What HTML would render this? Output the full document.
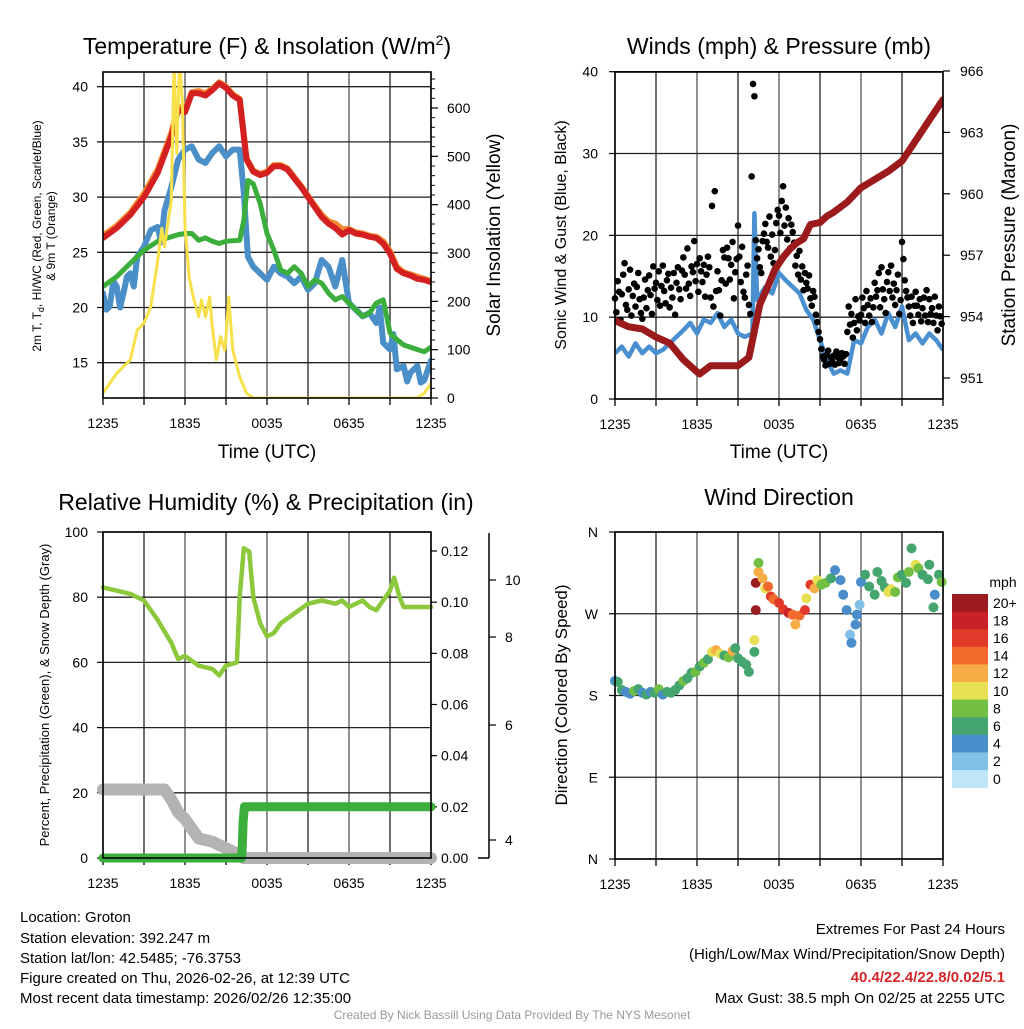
<!DOCTYPE html>
<html><head><meta charset="utf-8">
<style>
body{margin:0;background:#fff;width:1024px;height:1024px;overflow:hidden;font-family:"Liberation Sans",Arial,sans-serif;}
svg text{font-family:"Liberation Sans",Arial,sans-serif;fill:#000;}
</style></head>
<body>
<svg id="fig" width="1024" height="1024" viewBox="0 0 1024 1024" xmlns="http://www.w3.org/2000/svg">
<rect width="1024" height="1024" fill="#fff"/>
<g id="p1"></g>
<g id="p2"></g>
<g id="p3"></g>
<g id="p4"></g>

<text x="267" y="54" font-size="23" text-anchor="middle">Temperature (F) &amp; Insolation (W/m<tspan font-size="14" dy="-9">2</tspan><tspan dy="9">)</tspan></text>
<text x="779" y="54" font-size="23" text-anchor="middle">Winds (mph) &amp; Pressure (mb)</text>
<text x="266" y="510" font-size="23" text-anchor="middle">Relative Humidity (%) &amp; Precipitation (in)</text>
<text x="779" y="505" font-size="23" text-anchor="middle">Wind Direction</text>

<text x="267" y="458" font-size="19" text-anchor="middle">Time (UTC)</text>
<text x="779" y="458" font-size="19" text-anchor="middle">Time (UTC)</text>

<text transform="translate(41,236) rotate(-90)" font-size="12" text-anchor="middle">2m T, T<tspan font-size="9" dy="3">d</tspan><tspan dy="-3">, HI/WC (Red, Green, Scarlet/Blue)</tspan></text>
<text transform="translate(55,236) rotate(-90)" font-size="12" text-anchor="middle">&amp; 9m T (Orange)</text>
<text transform="translate(500,235) rotate(-90)" font-size="19" text-anchor="middle">Solar Insolation (Yellow)</text>
<text transform="translate(566,235) rotate(-90)" font-size="16" text-anchor="middle">Sonic Wind &amp; Gust (Blue, Black)</text>
<text transform="translate(1015,235) rotate(-90)" font-size="19" text-anchor="middle">Station Pressure (Maroon)</text>
<text transform="translate(49,695) rotate(-90)" font-size="13" text-anchor="middle">Percent, Precipitation (Green), &amp; Snow Depth (Gray)</text>
<text transform="translate(567,695) rotate(-90)" font-size="17" text-anchor="middle">Direction (Colored By Speed)</text>

<g font-size="15">
<text x="20" y="922">Location: Groton</text>
<text x="20" y="943">Station elevation: 392.247 m</text>
<text x="20" y="963">Station lat/lon: 42.5485; -76.3753</text>
<text x="20" y="983">Figure created on Thu, 2026-02-26, at 12:39 UTC</text>
<text x="20" y="1003">Most recent data timestamp: 2026/02/26 12:35:00</text>
</g>
<g font-size="15" text-anchor="end">
<text x="1005" y="934">Extremes For Past 24 Hours</text>
<text x="1005" y="959">(High/Low/Max Wind/Precipitation/Snow Depth)</text>
<text x="1005" y="982" font-weight="bold" style="fill:#d62728">40.4/22.4/22.8/0.02/5.1</text>
<text x="1005" y="1003">Max Gust: 38.5 mph On 02/25 at 2255 UTC</text>
</g>
<text x="512" y="1019" font-size="12" text-anchor="middle" style="fill:#999">Created By Nick Bassill Using Data Provided By The NYS Mesonet</text>
</svg>
<script>
// ---------- DATA ----------
const xTickLabels = ["1235","1835","0035","0635","1235"];
const tempTicks = [15,20,25,30,35,40];
const insolTicks = [0,100,200,300,400,500,600];
const windTicks = [0,10,20,30,40];
const presTicks = [951,954,957,960,963,966];
const rhTicks = [0,20,40,60,80,100];
const precipTicks = [0.00,0.02,0.04,0.06,0.08,0.10,0.12];
const snowTickLabels = ["4","6","8","10"];
const dirLabels = ["N","E","S","W","N"];
const dirTicks = [0,90,180,270,360];
const speedBins = ["0","2","4","6","8","10","12","14","16","18","20+"];
const speedColors = ["#bfe6f7","#82bfe6","#4a8dcb","#45a56e","#72bf44","#e6e052","#f6ad45","#f26a2c","#e23a2a","#c82128","#9b1b1f"];

const tempH = [0,1,2,3,4,5,5.5,6,6.5,7,7.5,8,8.5,9,9.5,10,10.5,11,11.5,12,12.5,13,13.5,14,14.5,15,15.5,16,16.5,17,17.5,18,18.5,19,19.5,20,20.5,21,21.5,22,22.5,23,23.5,24];
const tempRed = [26.3,27.2,28.4,30.0,32.2,35.5,37.9,37.7,39.4,39.4,39.2,39.7,40.3,39.9,39.2,38.8,33.4,32.3,32.0,32.2,32.8,32.8,32.5,31.7,30.9,30.0,29.1,28.2,27.6,27.2,26.6,27.0,26.7,26.6,26.4,26.3,25.8,24.9,23.5,23.1,22.9,22.6,22.5,22.3];
const tempOrange = [26.5,27.4,28.6,30.3,32.5,35.8,38.2,37.9,39.5,39.6,39.4,39.8,40.4,40.0,39.3,38.9,33.5,32.4,32.1,32.3,32.9,32.9,32.6,31.8,31.0,30.1,29.2,28.4,27.8,27.6,27.1,27.1,26.8,26.7,26.5,26.4,26.0,25.1,23.7,23.2,23.0,22.8,22.6,22.4];
const blueH = [0,0.25,0.5,0.75,1,1.25,1.5,1.75,2,2.25,2.5,3,3.5,4,4.25,4.5,5,5.5,6,6.5,7,7.5,8,8.5,9,9.5,10,10.3,10.6,11,11.5,12,12.5,13,13.5,14,14.5,15,15.5,16,16.5,17,17.5,18,18.5,19,19.5,20,20.25,20.5,21,21.25,21.5,22,22.25,22.5,23,23.25,23.5,24];
const tempBlue = [21.3,19.8,20.1,22.4,21.9,20.0,21.3,22.8,23.1,21.9,24.6,25.5,27.0,27.3,25.9,28.8,30.9,33.4,34.3,34.6,33.4,33.1,34.0,34.6,33.7,34.3,34.3,30.4,24.6,23.7,23.1,22.5,23.7,23.1,22.8,22.2,22.8,21.6,22.2,24.3,23.7,21.9,24.3,20.4,19.8,19.2,19.5,18.6,20.0,16.8,16.2,17.6,14.4,14.7,13.3,14.1,14.7,13.2,13.4,15.2];
const greenH = [0,1,2,3,4,5,5.5,6,6.5,7,7.5,8,8.5,9,10,10.3,10.6,11,11.5,12,12.5,13,13.5,14,14.5,15,15.5,16,16.5,17,17.5,18,18.5,19,19.5,20,20.5,21,21.5,22,22.5,23,23.5,24];
const tempGreen = [21.9,22.8,24.0,25.2,26.0,26.4,26.6,26.7,26.7,26.1,26.3,26.0,25.8,26.0,26.1,27.9,31.5,31.2,29.4,26.7,25.2,23.4,23.1,23.7,23.1,21.9,22.5,22.2,21.3,20.7,21.0,20.4,19.8,19.2,19.5,20.4,20.7,17.7,17.1,16.6,16.4,16.2,16.0,16.4];
const insolH = [0,1,2,2.5,3,3.5,4,4.3,4.5,5,5.2,5.4,5.6,5.8,6,6.3,6.6,7,7.2,7.5,7.8,8,8.3,8.6,8.9,9,9.2,9.5,10,10.5,11,23,23.5,24];
const insol = [10,51,79,141,155,189,285,351,313,409,700,506,700,616,354,251,209,168,203,168,209,147,79,127,99,127,209,99,44,10,0,0,10,30];

const windH = [0,0.5,1,1.5,2,2.5,3,3.5,4,4.5,5,5.5,6,6.5,7,7.5,8,8.5,9,9.5,10.05,10.2,10.4,10.7,11,11.5,12,12.5,13,13.5,14,14.5,15,15.5,16,16.5,17,17.5,18,18.5,19,19.5,20,20.5,21,21.5,22,22.5,23,23.5,24];
const windSpd = [5.6,6.4,5.2,6.8,5.6,6.4,5.6,6.0,6.8,7.6,8.4,9.3,8.0,9.7,9.3,10.5,8.8,9.7,8.0,7.6,8.0,22.7,12.1,12.9,13.7,12.9,15.4,14.5,13.7,12.9,10.9,9.7,7.2,4.8,3.1,3.5,3.1,7.2,6.8,8.8,9.7,8.0,10.5,8.8,11.3,7.2,8.0,6.8,8.0,7.2,6.0];
const gustStepHours = 0.1;
const gustVals = [12.3,10.6,14.4,13.1,9.7,12.8,15.2,16.6,11.5,10.9, 13.4,15.8,10.2,12.6,14.1,11.3,13.7,15.4,12.2,10.5, 9.8,12.4,14.6,11.1,13.3,15.1,12.7,10.4,16.2,13.5, 14.2,12.1,15.6,11.4,13.8,16.3,13.2,11.7,14.5,15.3, 11.2,13.6,12.4,15.4,10.3,14.2,16.1,13.4,12.2,15.7, 17.3,15.2,13.5,18.4,14.1,12.6,16.2,15.5,19.3,14.4, 16.5,13.1,17.2,15.6,14.3,16.4,12.5,15.2,17.4,16.1, 12.4,23.6,11.3,25.4,13.2,15.6,13.3,10.2,14.5,18.2, 17.3,14.1,18.5,17.2,14.6,16.4,19.2,12.3,15.5,17.1, 21.2,17.4,14.3,18.6,13.1,12.4,15.2,16.3,11.5,10.4, 27.2,38.5,37.0,19.4,17.2,18.3,16.1,15.4,19.3,20.2, 21.4,19.2,18.5,22.3,17.4,20.1,16.6,18.2,21.5,23.1, 22.4,20.3,24.2,26.0,21.2,23.4,19.5,22.1,18.4,21.3, 20.4,19.1,16.3,17.5,15.2,18.1,14.6,16.2,13.3,15.4, 14.2,13.5,15.1,12.3,11.4,13.2,12.5,10.3,9.4,8.2, 7.3,6.1,5.2,4.8,4.1,5.4,5.9,4.3,5.1,4.6, 5.3,4.2,5.8,5.1,4.4,4.9,5.6,5.2,4.3,5.5, 8.2,11.3,9.1,10.4,7.5,9.3,12.2,8.4,10.1,9.6, 10.3,12.4,11.1,9.3,13.2,11.5,10.2,12.3,9.4,11.2, 14.2,12.5,13.3,15.4,11.2,16.1,13.4,12.2,10.5,14.3, 15.5,13.2,16.3,12.4,14.1,11.5,13.3,15.2,10.4,12.1, 19.2,17.1,14.5,13.2,12.4,11.3,10.2,12.5,9.3,11.4, 13.1,11.4,10.3,12.2,9.5,11.1,12.4,10.2,13.3,9.4, 12.2,10.4,11.1,9.3,12.5,10.2,8.4,11.3,10.1,9.2];
const presH = [0,1,2,3,4,5,6,6.2,7,8,9,9.8,10.2,10.6,11.2,11.7,12.3,12.8,13.3,13.8,14.3,15,15.5,16,17,18,19,20,21,22,23,24];
const pres = [953.8,953.5,953.4,953.0,952.7,951.9,951.3,951.2,951.6,951.6,951.6,952.0,953.3,954.6,955.5,956.3,956.9,957.3,957.6,957.8,958.5,958.6,958.9,959.1,959.6,960.3,960.7,961.1,961.6,962.6,963.6,964.6];

const rhH = [0,1,2,3,4,5,5.5,6,7,8,8.5,9,9.8,10,10.3,10.7,11,11.5,12,12.5,13,14,15,16,17,17.5,18,19,19.5,20,21,21.3,21.7,22,23,24];
const rh = [83,82,81,79,73,66,61,62,59,58,56,59,60,80,95,94,80,72,68,69,72,75,78,79,78,79,77,79,77,76,82,86,80,77,77,77];
const precipH = [0,10.15,10.2,10.25,10.35,24];
const precip = [0,0,0.006,0.014,0.02,0.02];
const snowH = [0,4.5,5,5.5,6,6.5,7,8,8.5,9,9.5,10,10.3,24];
const snow = [21,21,18,14,12,9,6,5,4,3,2,0.5,0,0];

const dirH = [0,0.2,0.5,0.8,1.1,1.4,1.7,2.0,2.3,2.6,2.9,3.2,3.5,3.8,4.1,4.4,4.7,5.0,5.3,5.6,5.9,6.2,6.5,6.8,7.1,7.4,7.7,8.0,8.3,8.6,8.8,9.0,9.3,9.6,9.8,10.2,10.2,10.3,10.3,10.5,10.5,10.8,11.0,11.2,11.4,11.6,12.0,12.3,12.7,13.0,13.2,13.5,13.9,14.0,14.3,14.6,14.8,15.1,15.4,15.8,16.1,16.5,16.7,16.95,17.2,17.3,17.6,17.7,17.9,18.0,18.3,18.6,19.0,19.2,19.5,19.75,20.0,20.2,20.5,20.7,21.0,21.3,21.5,21.7,22.0,22.2,22.5,22.9,23.0,23.3,23.4,23.7,23.9];
const dirDeg = [196,195,186,184,182,185,187,183,181,184,183,187,181,184,183,186,191,196,199,205,206,212,216,220,228,230,226,224,222,229,232,221,217,214,206,241,228,274,304,316,326,309,298,300,289,286,282,275,271,269,258,268,274,287,302,298,307,302,304,309,318,307,291,274,247,238,258,269,280,305,313,300,291,316,306,299,294,297,294,310,313,304,316,342,324,320,313,308,324,277,291,313,305];
const dirSpd = [4,6,6,4,4,8,6,4,6,4,6,8,4,6,6,6,6,8,6,6,8,6,8,6,10,12,10,6,8,12,6,6,6,6,6,10,6,20,20,12,7,12,10,13,15,14,16,16,17,14,12,14,16,10,16,12,10,8,7,6,4,4,3,3,2,3,4,4,2,4,6,6,6,6,6,6,10,10,8,8,6,6,7,6,10,8,6,6,6,6,4,6,8];

// ---------- RENDER ----------
const NS = "http://www.w3.org/2000/svg";
function mk(parent, tag, attrs){ const e=document.createElementNS(NS,tag); for(const k in attrs) e.setAttribute(k,attrs[k]); parent.appendChild(e); return e; }
function lin(d0,d1,r0,r1){ return v=>r0+(v-d0)/(d1-d0)*(r1-r0); }
function pathOf(xs,ys,fx,fy){ return xs.map((h,i)=>(i?"L":"M")+fx(h).toFixed(1)+","+fy(ys[i]).toFixed(1)).join(""); }

function frame(g, x0,y0,w,h, hGridVals, fy){
  const fx = lin(0,24,x0,x0+w);
  for(let k=0;k<=8;k++){
    const x=fx(k*3);
    const l=mk(g,"line",{x1:x,x2:x,y1:y0,y2:y0+h,stroke:k%2?"#222":"#555","stroke-width":1.3});
    
    
    const t=mk(g,"line",{x1:x,x2:x,y1:y0+h,y2:y0+h+7,stroke:"#000","stroke-width":1.3});
    
    
  }
  hGridVals.forEach(v=>{
    const y=fy(v);
    const l=mk(g,"line",{x1:x0,x2:x0+w,y1:y,y2:y,stroke:"#222","stroke-width":1.3});
    
    
  });
  xTickLabels.forEach((s,i)=>{
    const t=mk(g,"text",{x:fx(i*6),y:y0+h+30,"font-size":14,"text-anchor":"middle"});
    t.textContent=s;
    
    
  });
  return fx;
}
function border(g,x0,y0,w,h){
  const r=mk(g,"rect",{x:x0,y:y0,width:w,height:h,fill:"none",stroke:"#000","stroke-width":1.6});
  
  
}
function yLabels(g, vals, fy, x, anchor, fmt, tickX1, tickX2){
  vals.forEach(v=>{
    const y=fy(v);
    const t=mk(g,"text",{x:x,y:y+5,"font-size":14,"text-anchor":anchor});
    t.textContent=fmt?fmt(v):String(v);
    
    
    const l=mk(g,"line",{x1:tickX1,x2:tickX2,y1:y,y2:y,stroke:"#000","stroke-width":1.2});
    
    
  });
}

// Panel 1
(function(){
  const g=document.getElementById("p1");
  const x0=103,y0=72,w=328,h=326;
  const fy=lin(40,15,86.7,362.7);
  const fi=lin(0,600,398,108);
  const fx=frame(g,x0,y0,w,h,tempTicks,fy);
  yLabels(g,tempTicks,fy,88,"end",null,x0-6,x0);
  yLabels(g,insolTicks,fi,447,"start",null,x0+w,x0+w+7);
  for(let v=20;v<=660;v+=20){ if(v%100){ const l=mk(g,"line",{x1:x0+w,x2:x0+w+4,y1:fi(v),y2:fi(v),stroke:"#000","stroke-width":1});
      } }
  const cp=mk(g,"clipPath",{id:"c1"}); mk(cp,"rect",{x:x0,y:y0,width:w,height:h});
  const series=[[blueH,tempBlue,"#4a8fc8",6,"dewpoint-wind-chill-line"],[greenH,tempGreen,"#3cae3c",5,"dewpoint-line"],[tempH,tempOrange,"#f28a30",6,"temp-9m-line"],[tempH,tempRed,"#d42020",6,"temp-2m-line"]];
  const ins=mk(g,"path",{d:pathOf(insolH,insol,fx,fi),fill:"none",stroke:"#f7e04a","stroke-width":3,"clip-path":"url(#c1)","stroke-linejoin":"round"});
  
  
  series.forEach(s=>{
    const p=mk(g,"path",{d:pathOf(s[0],s[1],fx,fy),fill:"none",stroke:s[2],"stroke-width":s[3],"stroke-linejoin":"round","stroke-linecap":"round","clip-path":"url(#c1)"});
    
    
  });
  g.appendChild(ins);
  border(g,x0,y0,w,h);
})();

// Panel 2
(function(){
  const g=document.getElementById("p2");
  const x0=615,y0=72,w=328,h=327;
  const fy=lin(0,40,399,71.7);
  const fp=lin(951,966,378,71);
  const fx=frame(g,x0,y0,w,h,windTicks,fy);
  yLabels(g,windTicks,fy,598,"end",null,x0-6,x0);
  yLabels(g,presTicks,fp,960,"start",null,x0+w,x0+w+7);
  const cp=mk(g,"clipPath",{id:"c2"}); mk(cp,"rect",{x:x0,y:y0,width:w,height:h});
  const wl=mk(g,"path",{d:pathOf(windH,windSpd,fx,fy),fill:"none",stroke:"#4a90d0","stroke-width":4.5,"stroke-linejoin":"round","clip-path":"url(#c2)"});
  
  
  gustVals.forEach((v,i)=>{
    const c=mk(g,"circle",{cx:fx(i*gustStepHours),cy:fy(v),r:3.3,fill:"#000"});
    
    
  });
  const pl=mk(g,"path",{d:pathOf(presH,pres,fx,fp),fill:"none",stroke:"#9b1a1c","stroke-width":7,"stroke-linejoin":"round","stroke-linecap":"round","clip-path":"url(#c2)"});
  
  
  border(g,x0,y0,w,h);
})();

// Panel 3
(function(){
  const g=document.getElementById("p3");
  const x0=103,y0=532,w=328,h=326;
  const fy=lin(0,100,858,532);
  const fpr=lin(0,0.12,858,551);
  const fx=frame(g,x0,y0,w,h,rhTicks,fy);
  yLabels(g,rhTicks,fy,88,"end",null,x0-6,x0);
  yLabels(g,precipTicks,fpr,441,"start",v=>v.toFixed(2),x0+w,x0+w+6);
  const ax=mk(g,"line",{x1:489,x2:489,y1:533,y2:858,stroke:"#000","stroke-width":1.5});
  
  
  const bl=mk(g,"line",{x1:478,x2:489,y1:858,y2:858,stroke:"#000","stroke-width":1.5});
  
  
  const snowTickY=[840,725,637,580];
  snowTickLabels.forEach((s,i)=>{
    const t=mk(g,"text",{x:505,y:snowTickY[i]+5,"font-size":14});
    t.textContent=s;
    
    
    const l=mk(g,"line",{x1:489,x2:496,y1:snowTickY[i],y2:snowTickY[i],stroke:"#000","stroke-width":1.2});
    
    
  });
  const sn=mk(g,"path",{d:pathOf(snowH,snow,fx,fy),fill:"none",stroke:"#b3b3b3","stroke-width":12,"stroke-linejoin":"round","stroke-linecap":"round"});
  
  
  const pr=mk(g,"path",{d:pathOf(precipH,precip,fx,fpr),fill:"none",stroke:"#3cae3c","stroke-width":9,"stroke-linejoin":"round","stroke-linecap":"round"});
  
  
  const rl=mk(g,"path",{d:pathOf(rhH,rh,fx,fy),fill:"none",stroke:"#8cc83c","stroke-width":4.5,"stroke-linejoin":"round","stroke-linecap":"round"});
  
  
  border(g,x0,y0,w,h);
})();

// Panel 4
(function(){
  const g=document.getElementById("p4");
  const x0=615,y0=532,w=328,h=327;
  const fy=lin(0,360,859,532);
  const fx=frame(g,x0,y0,w,h,dirTicks,fy);
  dirLabels.forEach((s,i)=>{
    const y=fy(dirTicks[i]);
    const t=mk(g,"text",{x:598,y:y+5,"font-size":14,"text-anchor":"end"});
    t.textContent=s;
    
    
    const l=mk(g,"line",{x1:x0-6,x2:x0,y1:y,y2:y,stroke:"#000","stroke-width":1.2});
    
    
  });
  dirH.forEach((hh,i)=>{
    const bin=Math.min(10,Math.max(0,Math.round(dirSpd[i]/2)));
    const c=mk(g,"circle",{cx:fx(hh),cy:fy(dirDeg[i]),r:5,fill:speedColors[bin]});
    
    
  });
  border(g,x0,y0,w,h);
  const lt=mk(g,"text",{x:1003,y:587,"font-size":14,"text-anchor":"middle"});
  lt.textContent="mph";
  
  
  const bh=17.6, top=594;
  for(let i=0;i<speedBins.length;i++){
    const idx=speedBins.length-1-i;
    const r=mk(g,"rect",{x:952,y:top+i*bh,width:36,height:bh+0.5,fill:speedColors[idx]});
    
    
    const t=mk(g,"text",{x:993,y:top+i*bh+bh/2+5,"font-size":14});
    t.textContent=speedBins[idx];
    
    
  }
})();
</script>
</body></html>
